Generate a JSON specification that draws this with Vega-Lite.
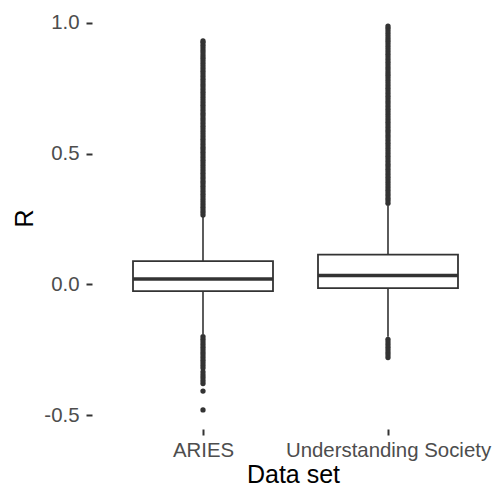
{
  "$schema": "https://vega.github.io/schema/vega-lite/v6.json",
  "width": 402,
  "height": 422,
  "autosize": {"type": "none"},
  "padding": {"left": 92, "top": 7, "right": 0, "bottom": 60},
  "background": "white",
  "config": {
    "view": {"stroke": null},
    "axis": {
      "grid": false,
      "domain": false,
      "labelFont": "Liberation Sans",
      "titleFont": "Liberation Sans",
      "labelFontSize": 20.4,
      "labelColor": "#4d4d4d",
      "labelLimit": 0,
      "labelOverlap": false,
      "tickColor": "#333333",
      "tickWidth": 2,
      "tickSize": 6,
      "titleFontSize": 25,
      "titleFontWeight": "normal",
      "titleColor": "#000000"
    }
  },
  "datasets": {
    "summary": [
      {"set": "ARIES", "lower": -0.19, "q1": -0.026, "median": 0.021, "q3": 0.089, "upper": 0.258},
      {"set": "Understanding Society", "lower": -0.2, "q1": -0.0145, "median": 0.034, "q3": 0.114, "upper": 0.3}
    ],
    "outliers": [
      {"set": "ARIES", "value": 0.265}, {"set": "ARIES", "value": 0.275}, {"set": "ARIES", "value": 0.285}, {"set": "ARIES", "value": 0.295},
      {"set": "ARIES", "value": 0.305}, {"set": "ARIES", "value": 0.315}, {"set": "ARIES", "value": 0.325}, {"set": "ARIES", "value": 0.335},
      {"set": "ARIES", "value": 0.345}, {"set": "ARIES", "value": 0.355}, {"set": "ARIES", "value": 0.365}, {"set": "ARIES", "value": 0.375},
      {"set": "ARIES", "value": 0.385}, {"set": "ARIES", "value": 0.395}, {"set": "ARIES", "value": 0.405}, {"set": "ARIES", "value": 0.415},
      {"set": "ARIES", "value": 0.425}, {"set": "ARIES", "value": 0.435}, {"set": "ARIES", "value": 0.445}, {"set": "ARIES", "value": 0.455},
      {"set": "ARIES", "value": 0.465}, {"set": "ARIES", "value": 0.475}, {"set": "ARIES", "value": 0.485}, {"set": "ARIES", "value": 0.495},
      {"set": "ARIES", "value": 0.505}, {"set": "ARIES", "value": 0.515}, {"set": "ARIES", "value": 0.525}, {"set": "ARIES", "value": 0.535},
      {"set": "ARIES", "value": 0.545}, {"set": "ARIES", "value": 0.555}, {"set": "ARIES", "value": 0.565}, {"set": "ARIES", "value": 0.575},
      {"set": "ARIES", "value": 0.585}, {"set": "ARIES", "value": 0.595}, {"set": "ARIES", "value": 0.605}, {"set": "ARIES", "value": 0.615},
      {"set": "ARIES", "value": 0.625}, {"set": "ARIES", "value": 0.635}, {"set": "ARIES", "value": 0.645}, {"set": "ARIES", "value": 0.655},
      {"set": "ARIES", "value": 0.665}, {"set": "ARIES", "value": 0.675}, {"set": "ARIES", "value": 0.685}, {"set": "ARIES", "value": 0.695},
      {"set": "ARIES", "value": 0.705}, {"set": "ARIES", "value": 0.715}, {"set": "ARIES", "value": 0.725}, {"set": "ARIES", "value": 0.735},
      {"set": "ARIES", "value": 0.745}, {"set": "ARIES", "value": 0.755}, {"set": "ARIES", "value": 0.765}, {"set": "ARIES", "value": 0.775},
      {"set": "ARIES", "value": 0.785}, {"set": "ARIES", "value": 0.795}, {"set": "ARIES", "value": 0.805}, {"set": "ARIES", "value": 0.815},
      {"set": "ARIES", "value": 0.825}, {"set": "ARIES", "value": 0.835}, {"set": "ARIES", "value": 0.845}, {"set": "ARIES", "value": 0.855},
      {"set": "ARIES", "value": 0.865}, {"set": "ARIES", "value": 0.875}, {"set": "ARIES", "value": 0.885}, {"set": "ARIES", "value": 0.895},
      {"set": "ARIES", "value": 0.905}, {"set": "ARIES", "value": 0.915}, {"set": "ARIES", "value": 0.925}, {"set": "ARIES", "value": 0.931},
      {"set": "ARIES", "value": -0.2}, {"set": "ARIES", "value": -0.21}, {"set": "ARIES", "value": -0.22}, {"set": "ARIES", "value": -0.23},
      {"set": "ARIES", "value": -0.24}, {"set": "ARIES", "value": -0.25}, {"set": "ARIES", "value": -0.26}, {"set": "ARIES", "value": -0.27},
      {"set": "ARIES", "value": -0.28}, {"set": "ARIES", "value": -0.29}, {"set": "ARIES", "value": -0.3}, {"set": "ARIES", "value": -0.31},
      {"set": "ARIES", "value": -0.32}, {"set": "ARIES", "value": -0.335}, {"set": "ARIES", "value": -0.346}, {"set": "ARIES", "value": -0.357},
      {"set": "ARIES", "value": -0.368}, {"set": "ARIES", "value": -0.379}, {"set": "ARIES", "value": -0.408}, {"set": "ARIES", "value": -0.48},
      {"set": "Understanding Society", "value": 0.31}, {"set": "Understanding Society", "value": 0.32}, {"set": "Understanding Society", "value": 0.33},
      {"set": "Understanding Society", "value": 0.34}, {"set": "Understanding Society", "value": 0.35}, {"set": "Understanding Society", "value": 0.36},
      {"set": "Understanding Society", "value": 0.37}, {"set": "Understanding Society", "value": 0.38}, {"set": "Understanding Society", "value": 0.39},
      {"set": "Understanding Society", "value": 0.4}, {"set": "Understanding Society", "value": 0.41}, {"set": "Understanding Society", "value": 0.42},
      {"set": "Understanding Society", "value": 0.43}, {"set": "Understanding Society", "value": 0.44}, {"set": "Understanding Society", "value": 0.45},
      {"set": "Understanding Society", "value": 0.46}, {"set": "Understanding Society", "value": 0.47}, {"set": "Understanding Society", "value": 0.48},
      {"set": "Understanding Society", "value": 0.49}, {"set": "Understanding Society", "value": 0.5}, {"set": "Understanding Society", "value": 0.51},
      {"set": "Understanding Society", "value": 0.52}, {"set": "Understanding Society", "value": 0.53}, {"set": "Understanding Society", "value": 0.54},
      {"set": "Understanding Society", "value": 0.55}, {"set": "Understanding Society", "value": 0.56}, {"set": "Understanding Society", "value": 0.57},
      {"set": "Understanding Society", "value": 0.58}, {"set": "Understanding Society", "value": 0.59}, {"set": "Understanding Society", "value": 0.6},
      {"set": "Understanding Society", "value": 0.61}, {"set": "Understanding Society", "value": 0.62}, {"set": "Understanding Society", "value": 0.63},
      {"set": "Understanding Society", "value": 0.64}, {"set": "Understanding Society", "value": 0.65}, {"set": "Understanding Society", "value": 0.66},
      {"set": "Understanding Society", "value": 0.67}, {"set": "Understanding Society", "value": 0.68}, {"set": "Understanding Society", "value": 0.69},
      {"set": "Understanding Society", "value": 0.7}, {"set": "Understanding Society", "value": 0.71}, {"set": "Understanding Society", "value": 0.72},
      {"set": "Understanding Society", "value": 0.73}, {"set": "Understanding Society", "value": 0.74}, {"set": "Understanding Society", "value": 0.75},
      {"set": "Understanding Society", "value": 0.76}, {"set": "Understanding Society", "value": 0.77}, {"set": "Understanding Society", "value": 0.78},
      {"set": "Understanding Society", "value": 0.79}, {"set": "Understanding Society", "value": 0.8}, {"set": "Understanding Society", "value": 0.81},
      {"set": "Understanding Society", "value": 0.82}, {"set": "Understanding Society", "value": 0.83}, {"set": "Understanding Society", "value": 0.84},
      {"set": "Understanding Society", "value": 0.85}, {"set": "Understanding Society", "value": 0.86}, {"set": "Understanding Society", "value": 0.87},
      {"set": "Understanding Society", "value": 0.88}, {"set": "Understanding Society", "value": 0.89}, {"set": "Understanding Society", "value": 0.9},
      {"set": "Understanding Society", "value": 0.91}, {"set": "Understanding Society", "value": 0.92}, {"set": "Understanding Society", "value": 0.93},
      {"set": "Understanding Society", "value": 0.94}, {"set": "Understanding Society", "value": 0.95}, {"set": "Understanding Society", "value": 0.96},
      {"set": "Understanding Society", "value": 0.97}, {"set": "Understanding Society", "value": 0.98}, {"set": "Understanding Society", "value": 0.988},
      {"set": "Understanding Society", "value": -0.21}, {"set": "Understanding Society", "value": -0.22}, {"set": "Understanding Society", "value": -0.23},
      {"set": "Understanding Society", "value": -0.24}, {"set": "Understanding Society", "value": -0.25}, {"set": "Understanding Society", "value": -0.26},
      {"set": "Understanding Society", "value": -0.27}, {"set": "Understanding Society", "value": -0.28}
    ]
  },
  "encoding": {
    "x": {
      "field": "set",
      "type": "nominal",
      "scale": {"type": "point", "padding": 0.5865, "align": 0.5115},
      "axis": {"title": "Data set", "labelAngle": 0, "labelPadding": 5, "titlePadding": 2}
    }
  },
  "layer": [
    {
      "data": {"name": "summary"},
      "mark": {"type": "rule", "color": "#333333", "strokeWidth": 1.6},
      "encoding": {
        "y": {
          "field": "lower",
          "type": "quantitative",
          "title": "R",
          "scale": {"domain": [-0.553, 1.061], "nice": false, "zero": false},
          "axis": {
            "values": [-0.5, 0, 0.5, 1],
            "labelExpr": "replace(format(datum.value, '.1f'), '\u2212', '-')",
            "labelPadding": 7,
            "titlePadding": 6
          }
        },
        "y2": {"field": "upper"}
      }
    },
    {
      "data": {"name": "outliers"},
      "mark": {"type": "point", "filled": true, "size": 28, "color": "#333333", "opacity": 1},
      "encoding": {
        "y": {"field": "value", "type": "quantitative", "title": "R"}
      }
    },
    {
      "data": {"name": "summary"},
      "mark": {"type": "bar", "fill": "white", "stroke": "#333333", "strokeWidth": 1.8, "width": 140},
      "encoding": {
        "y": {"field": "q1", "type": "quantitative", "title": "R"},
        "y2": {"field": "q3"}
      }
    },
    {
      "data": {"name": "summary"},
      "mark": {"type": "tick", "color": "#333333", "size": 140, "thickness": 3.5, "opacity": 1},
      "encoding": {
        "y": {"field": "median", "type": "quantitative", "title": "R"}
      }
    }
  ]
}
